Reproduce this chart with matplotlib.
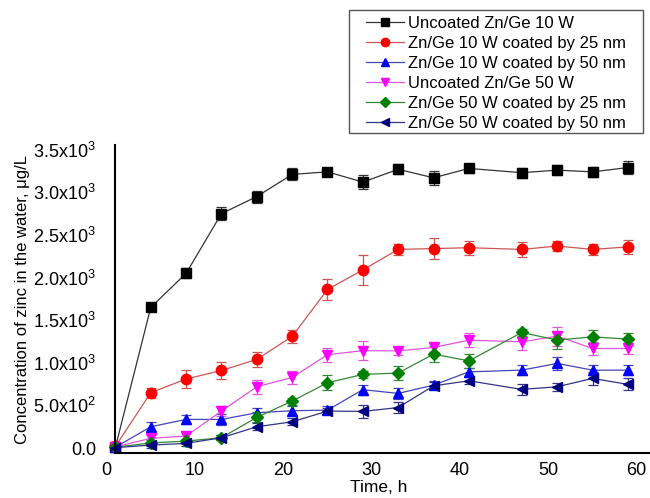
import matplotlib
matplotlib.use("Agg")
import matplotlib.pyplot as plt
from matplotlib.lines import Line2D
from matplotlib.patches import Rectangle
from matplotlib.ticker import FuncFormatter, MultipleLocator

plt.rcParams["font.family"] = ["Liberation Sans", "DejaVu Sans"]
plt.rcParams["mathtext.default"] = "regular"

time_h = [1, 5, 9, 13, 17, 21, 25, 29, 33, 37, 41, 47, 51, 55, 59]

uncoated_10w = [10, 1650, 2050, 2750, 2950, 3210, 3240, 3120, 3270, 3170, 3280, 3230, 3260, 3240, 3290]
uncoated_10w_err = [20, 40, 60, 80, 70, 70, 50, 80, 60, 80, 50, 60, 60, 60, 80]

coated_10w_25 = [20, 650, 810, 910, 1040, 1310, 1860, 2090, 2330, 2340, 2350, 2330, 2370, 2330, 2360]
coated_10w_25_err = [20, 60, 110, 100, 90, 80, 120, 180, 60, 120, 80, 85, 60, 60, 85]

coated_10w_50 = [10, 250, 336, 336, 414, 438, 445, 685, 641, 738, 894, 914, 993, 914, 914]
coated_10w_50_err = [20, 50, 50, 60, 60, 50, 50, 60, 60, 50, 50, 60, 80, 60, 60]

uncoated_50w = [15, 114, 141, 434, 719, 828, 1095, 1143, 1140, 1180, 1266, 1246, 1313, 1168, 1168]
uncoated_50w_err = [20, 40, 50, 60, 80, 80, 80, 110, 50, 50, 80, 100, 110, 80, 60]

coated_50w_25 = [10, 60, 82, 121, 360, 551, 766, 864, 880, 1102, 1023, 1356, 1266, 1305, 1278]
coated_50w_25_err = [20, 30, 30, 30, 60, 40, 90, 40, 80, 90, 80, 40, 100, 80, 70]

coated_50w_50 = [5, 35, 55, 121, 250, 308, 434, 430, 475, 730, 789, 688, 719, 817, 747]
coated_50w_50_err = [20, 30, 30, 30, 40, 40, 40, 80, 60, 40, 40, 60, 50, 80, 70]

series = [
    ("Uncoated Zn/Ge 10 W", uncoated_10w, uncoated_10w_err, "black", "#333333", "s", 6.5),
    ("Zn/Ge 10 W coated by 25 nm", coated_10w_25, coated_10w_25_err, "#ff0000", "#cc5555", "o", 7.5),
    ("Zn/Ge 10 W coated by 50 nm", coated_10w_50, coated_10w_50_err, "#0000ff", "#4444bb", "^", 7.5),
    ("Uncoated Zn/Ge 50 W", uncoated_50w, uncoated_50w_err, "#ff00ff", "#dd55dd", "v", 7.5),
    ("Zn/Ge 50 W coated by 25 nm", coated_50w_25, coated_50w_25_err, "#008000", "#338833", "D", 6),
    ("Zn/Ge 50 W coated by 50 nm", coated_50w_50, coated_50w_50_err, "#000080", "#333388", "<", 7.5),
]

W, H = 650, 498
fig = plt.figure(figsize=(W / 100, H / 100), dpi=100)
ax = fig.add_axes([0.164, 0.090, 0.836, 0.618])

handles = []
for label, vals, errs, mcol, lcol, marker, ms in series:
    ax.errorbar(
        time_h, vals, yerr=errs,
        color=lcol, linewidth=0.9,
        marker=marker, markersize=ms,
        markerfacecolor=mcol, markeredgecolor=mcol,
        ecolor=lcol, elinewidth=0.9, capsize=3.5, capthick=0.9,
    )
    # legend key without the error bar, as in the original
    handles.append(Line2D([], [], color=lcol, linewidth=0.9, marker=marker,
                          markersize=ms * 0.8, markerfacecolor=mcol,
                          markeredgecolor=mcol, label=label))

ax.set_xlim(0, 61.5)
ax.set_ylim(-60, 3550)
ax.xaxis.set_major_locator(MultipleLocator(10))
ax.yaxis.set_major_locator(MultipleLocator(500))


def _sci(v, pos):
    if v == 0:
        return "0.0"
    e = 3 if v >= 1000 else 2
    return f"{v / 10 ** e:.1f}x10$^{e}$"


ax.yaxis.set_major_formatter(FuncFormatter(_sci))

ax.spines["top"].set_visible(False)
ax.spines["right"].set_visible(False)
ax.spines["left"].set_position(("data", 1))
ax.spines["left"].set_linewidth(1.5)
ax.spines["bottom"].set_linewidth(1.5)
ax.spines["bottom"].set_bounds(1, 61.5)
ax.tick_params(axis="both", length=0, labelsize=13)
ax.tick_params(axis="y", pad=14)
ax.tick_params(axis="x", pad=6)

ax.set_xlabel("Time, h", fontsize=12.5, labelpad=1)
ax.set_ylabel("Concentration of zinc in the water, μg/L", fontsize=12, labelpad=2)

# legend box drawn separately so its padding can match the original
fig.add_artist(Rectangle((349 / W, 1 - 133 / H), 294 / W, 123 / H,
                         transform=fig.transFigure, facecolor="white",
                         edgecolor="#555555", linewidth=1.0))
fig.legend(
    handles=handles,
    loc="upper left", bbox_to_anchor=(366 / W, 1 - 16 / H),
    fontsize=12, frameon=False,
    handlelength=2.3, handletextpad=0.25, labelspacing=0.3,
    borderpad=0.0, borderaxespad=0,
)

fig.savefig("out.png", dpi=100)
